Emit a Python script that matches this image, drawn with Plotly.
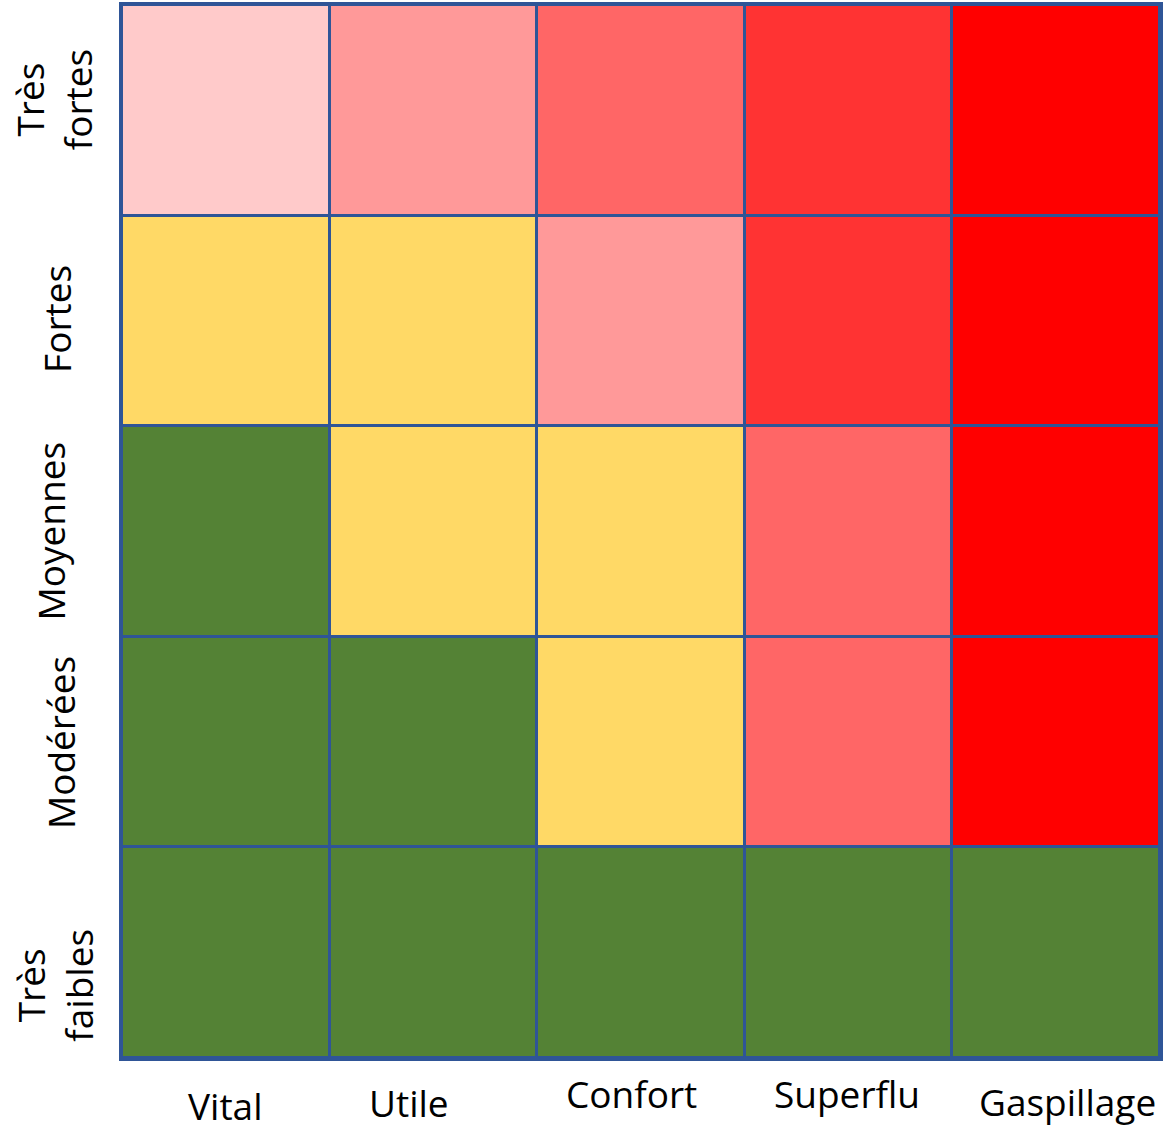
import plotly.graph_objects as go

usage = ["Vital", "Utile", "Confort", "Superflu", "Gaspillage"]
levels = ["Très<br>fortes", "Fortes", "Moyennes", "Modérées", "Très<br>faibles"]
# category index per cell, rows top -> bottom
z_rows = [
    [2, 3, 4, 5, 6],
    [1, 1, 3, 5, 6],
    [0, 1, 1, 4, 6],
    [0, 0, 1, 4, 6],
    [0, 0, 0, 0, 0],
]
palette = ["#548235", "#FFD966", "#FFCACA", "#FF9999", "#FF6666", "#FF3333", "#FF0000"]

n = len(palette)
colorscale = []
for i, c in enumerate(palette):
    colorscale.append([i / n, c])
    colorscale.append([(i + 1) / n, c])

border = "#2F5597"
font_family = "Open Sans, Lato, sans-serif"
fs = 37

fig = go.Figure(go.Heatmap(
    x=usage, y=levels, z=z_rows,
    zmin=-0.5, zmax=n - 0.5,
    colorscale=colorscale, showscale=False,
    xgap=3, ygap=3, hoverinfo="skip",
))

fig.update_layout(
    width=1163, height=1130,
    margin=dict(l=122, r=3, t=5, b=72),
    paper_bgcolor="white", plot_bgcolor=border,
    font=dict(family=font_family, size=fs, color="black"),
)
fig.update_xaxes(showticklabels=False, showgrid=False, zeroline=False,
                 showline=True, mirror=True, linecolor=border, linewidth=3,
                 automargin=False)
fig.update_yaxes(autorange="reversed", showgrid=False, zeroline=False,
                 showline=True, mirror=True, linecolor=border, linewidth=3,
                 showticklabels=False, ticks="", automargin=False)

# x labels as annotations with small offsets like the original
xshifts = [0, -24, -10, -2, 11]
yshifts = [-47, -44, -35, -35, -43]
for lab, dx, dy in zip(usage, xshifts, yshifts):
    fig.add_annotation(x=lab, y=0, yref="paper", text=lab, showarrow=False,
                       xshift=dx, yshift=dy, yanchor="middle", xanchor="center",
                       font=dict(size=fs, family=font_family))

# y labels, rotated, with the original's slight offsets
lxshifts = [-69, -65, -72, -62, -67]
lyshifts = [10, 2, 0, -1, -33]
for lab, dx, dy in zip(levels, lxshifts, lyshifts):
    fig.add_annotation(x=0, xref="paper", y=lab, text=lab, showarrow=False,
                       textangle=-90, xshift=dx, yshift=dy,
                       xanchor="center", yanchor="middle",
                       font=dict(size=fs, family=font_family))

fig.write_html("out.html", config={"displayModeBar": False},
               post_script="document.body.style.margin='0';")
